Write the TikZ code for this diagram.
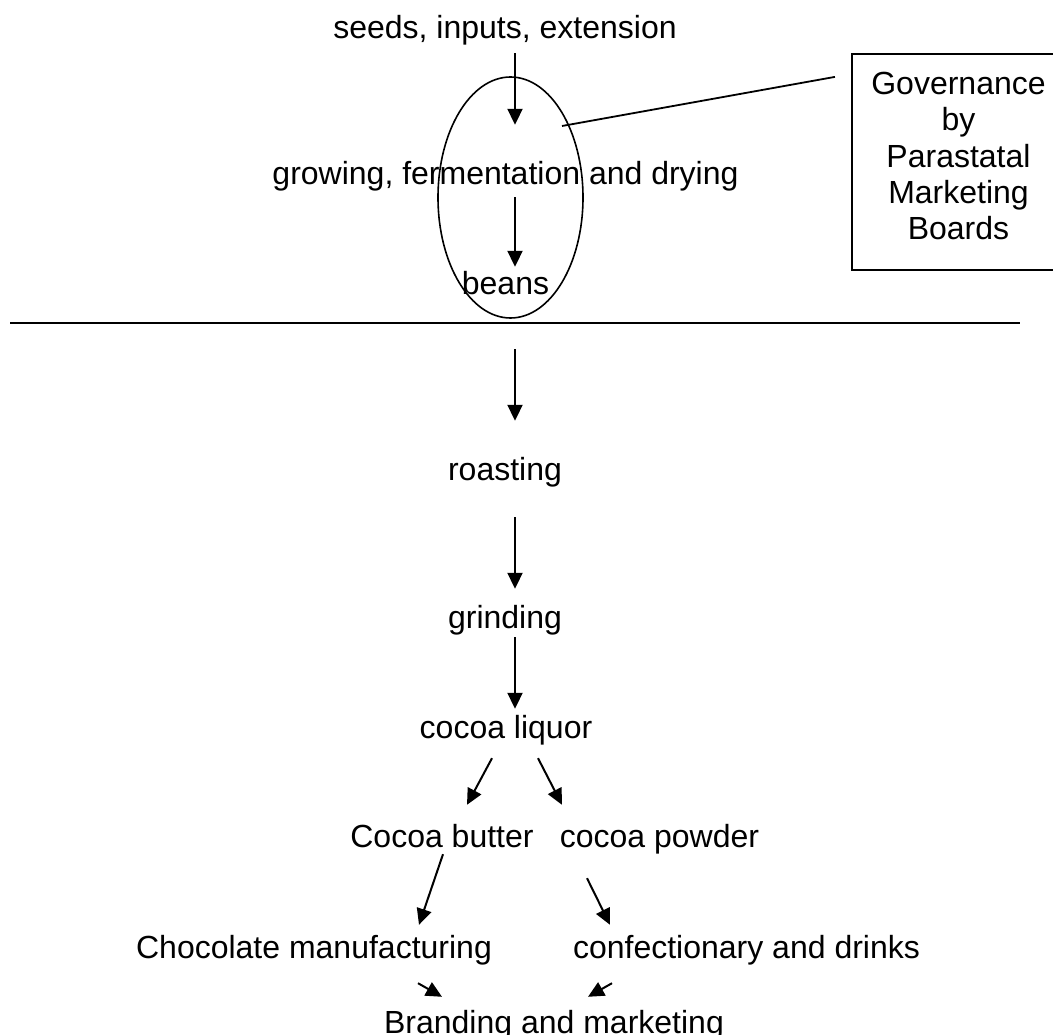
\documentclass[tikz,border=0pt]{standalone}
\usepackage{fontspec}
\setmainfont{Liberation Sans}
\usetikzlibrary{arrows.meta,shapes.geometric}
\begin{document}
\begin{tikzpicture}[x=1pt,y=-1pt,
  txt/.style={anchor=base,inner sep=0pt,text height=23pt,text depth=7pt,font=\fontsize{32}{36.3}\selectfont},
  arr/.style={line width=2pt,-{Triangle[length=16pt,width=15pt]}},
  plain/.style={line width=1.8pt}]
\useasboundingbox (0,0) rectangle (1053,1035);
% nodes
\node[txt] (seeds) at (505,39) {seeds, inputs, extension};
\node[txt] (grow) at (505.5,185) {growing, fermentation and drying};
\node[txt] (beans) at (505.5,295) {beans};
\node[draw,ellipse,line width=1.6pt,minimum width=145pt,minimum height=241pt,inner sep=0pt] (ell) at (510.5,197.5) {};
\node[draw,rectangle,line width=2.2pt,minimum width=213pt,minimum height=216pt,inner sep=0pt] (gov) at (958.5,162) {};
\node[anchor=north,inner sep=0pt,align=center,font=\fontsize{32}{36.3}\selectfont] (govtxt) at (958.5,72) {Governance\\by\\Parastatal\\Marketing\\Boards};
\node[txt] (roast) at (505,480) {roasting};
\node[txt] (grind) at (505,628) {grinding};
\node[txt] (liquor) at (506,738) {cocoa liquor};
\node[txt] (butter) at (442,847) {Cocoa butter};
\node[txt] (powder) at (659.5,847) {cocoa powder};
\node[txt] (choc) at (314,958) {Chocolate manufacturing};
\node[txt] (conf) at (746.5,958) {confectionary and drinks};
\node[txt] (brand) at (554,1033) {Branding and marketing};
% divider
\draw[line width=2.4pt] (10,323) -- (1020,323);
% link ellipse to governance box
\coordinate (elllink) at ([xshift=51.5pt,yshift=71.5pt]ell.center);
\coordinate (govlink) at ([xshift=-16pt,yshift=-24pt]gov.north west);
\draw[plain] (elllink) -- (govlink);
% arrows
\draw[arr] ([xshift=10pt,yshift=-7pt]seeds.south) -- ([xshift=9.5pt,yshift=37pt]grow.north);
\draw[arr] ([xshift=9.5pt,yshift=-5pt]grow.south) -- ([xshift=9.5pt,yshift=5pt]beans.north);
\draw[arr] ([xshift=9.5pt,yshift=-47pt]beans.south) -- ([xshift=10pt,yshift=36pt]roast.north);
\draw[arr] ([xshift=10pt,yshift=-30pt]roast.south) -- ([xshift=10pt,yshift=16pt]grind.north);
\draw[arr] ([xshift=10pt,yshift=-2pt]grind.south) -- ([xshift=9pt,yshift=6pt]liquor.north);
\draw[arr] ([xshift=-14pt,yshift=-13pt]liquor.south) -- ([xshift=25pt,yshift=19pt]butter.north);
\draw[arr] ([xshift=32pt,yshift=-13pt]liquor.south) -- ([xshift=-97.5pt,yshift=19pt]powder.north);
\draw[arr] ([xshift=1pt,yshift=0pt]butter.south) -- ([xshift=105pt,yshift=10pt]choc.north);
\draw[arr] ([xshift=-72.5pt,yshift=-24pt]powder.south) -- ([xshift=-136.5pt,yshift=10pt]conf.north);
\draw[arr] ([xshift=104pt,yshift=-18pt]choc.south) -- ([xshift=-112pt,yshift=13pt]brand.north);
\draw[arr] ([xshift=-134.5pt,yshift=-18pt]conf.south) -- ([xshift=34pt,yshift=13pt]brand.north);
\end{tikzpicture}
\end{document}
